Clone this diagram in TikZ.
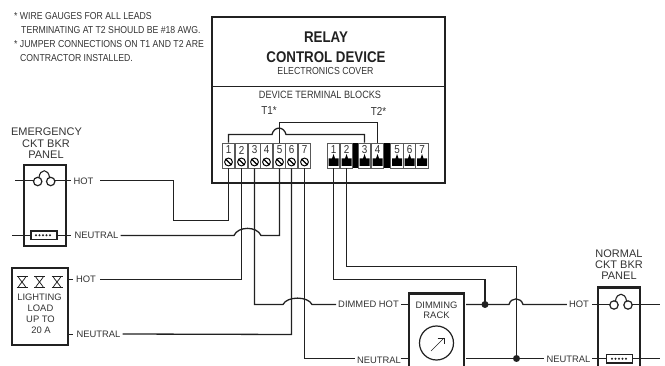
\documentclass[tikz,border=0pt]{standalone}
\usepackage{fontspec}
\setmainfont{Liberation Sans}
\newfontfamily\cond[FakeStretch=0.86]{Liberation Sans}
\usetikzlibrary{calc}
\definecolor{ink}{gray}{0.13}
\definecolor{txt}{gray}{0.2}
\tikzset{
  wire/.style={draw=ink,line width=1.3pt},
  heavy/.style={draw=ink,line width=2.4pt,line join=miter},
  stub/.style={draw=ink,line width=1.3pt},
  termbox/.style={draw=black!65,line width=0.7pt,fill=white,minimum width=12.6pt,minimum height=25pt,inner sep=0pt},
  termnum/.style={font=\cond\fontsize{11.5}{11.5}\selectfont,text=txt,inner sep=0pt},
  lbl/.style={font=\fontsize{9.4}{10}\selectfont,text=txt,inner sep=0pt,inner xsep=2pt},
  title/.style={font=\cond\fontsize{10.2}{10}\selectfont,text=txt,inner sep=0pt},
  panelname/.style={font=\fontsize{11}{11}\selectfont,text=txt,inner sep=0pt},
  boxtext/.style={font=\fontsize{9.4}{10}\selectfont,text=txt,inner sep=0pt},
  note/.style={font=\cond\fontsize{10.1}{10}\selectfont,text=txt,inner sep=0pt,anchor=west},
  dot/.style={circle,fill=ink,inner sep=0pt,minimum size=7pt},
}
\begin{document}
\begin{tikzpicture}[x=1pt,y=-1pt]
\useasboundingbox (0,0) rectangle (665,366);
% notes
\node[note] (n1) at (14,16.5) {* WIRE GAUGES FOR ALL LEADS};
\node[note] (n2) at (21,30.5) {TERMINATING AT T2 SHOULD BE \#18 AWG.};
\node[note] (n3) at (14,44.5) {* JUMPER CONNECTIONS ON T1 AND T2 ARE};
\node[note] (n4) at (20,58.5) {CONTRACTOR INSTALLED.};
% relay box
\draw[heavy] (212,17) rectangle (445,183);
\draw[draw=ink,line width=0.8pt] (212,86) -- (445,86);
\node[font=\cond\bfseries\fontsize{15.5}{16}\selectfont,text=ink,inner sep=0pt] (relay) at (326,37) {RELAY};
\node[font=\cond\bfseries\fontsize{15.5}{16}\selectfont,text=ink,inner sep=0pt] (ctrl) at (326,57.5) {CONTROL DEVICE};
\node[title] (cover) at (325.5,71) {ELECTRONICS COVER};
\node[title,font=\cond\fontsize{10.6}{10}\selectfont] (blocks) at (320,95) {DEVICE TERMINAL BLOCKS};
\node[title,font=\cond\fontsize{11.5}{11}\selectfont] (tone) at (269,111) {T1*};
\node[title,font=\cond\fontsize{11.5}{11}\selectfont] (ttwo) at (378.5,111) {T2*};
% T1
\foreach \n/\x in {1/228.5,2/241.5,3/254.5,4/266.5,5/279.5,6/291.5,7/304.5}{
  \node[termbox] (a\n) at (\x,155.5) {};
  \node[termnum] (an\n) at (\x,150) {\n};
  \draw[black,line width=1pt] (\x,162) circle (3.9);
  \draw[black,line width=1.4pt] (\x-3,159) -- (\x+3,165);
}
% T2
\fill[black] (352,143) rectangle (358.5,168);
\fill[black] (384,143) rectangle (390.5,168);
\foreach \n/\x in {1/333.5,2/346.5,3/364.5,4/377.5,5/397,6/409.5,7/422}{
  \node[termbox] (b\n) at (\x,155.5) {};
  \node[termnum] (bn\n) at (\x,149.5) {\n};
  \fill[black] (\x-5,166) -- (\x-5,158.5) -- (\x-1.5,158.5) -- (\x,154) -- (\x+1.5,158.5) -- (\x+5,158.5) -- (\x+5,166) -- cycle;
}
% jumpers
\draw[wire] (a1.north) -- (228.5,134.5) -- (272,134.5) .. controls (274,126) and (284,126) .. (286,134.5) -- (364.5,134.5) -- (b3.north);
\draw[wire] (a5.north) -- (279.5,122.5) -- (377.5,122.5) -- (b4.north);
% emergency panel
\node[panelname] (em1) at (46.5,132) {EMERGENCY};
\node[panelname] (em2) at (46,144) {CKT BKR};
\node[panelname] (em3) at (46,155) {PANEL};
\draw[heavy] (24,165) rectangle (66,246);
\draw[stub] (15,180.5) -- (33.7,180.5);
\draw[stub] (54.7,180.5) -- (71,180.5);
\draw[draw=ink,line width=1.2pt] (37.7,181.5) circle (4.2) (50.7,181.5) circle (4.2);
\draw[draw=ink,line width=1.1pt] (39,177.5) .. controls (40,168.5) and (48.5,168.5) .. (49.5,177.5);
\draw[stub] (12,235.5) -- (31,235.5);
\draw[stub] (57,235.5) -- (71,235.5);
\draw[draw=ink,line width=1.2pt,fill=white] (31,231) rectangle (57,239.5);
\foreach \x in {36,39.5,43,46.5,50}{\fill[ink] (\x,235.3) circle (1.1);}
\node[lbl] (hot1) at (83.5,181) {HOT};
\node[lbl] (neu1) at (96.5,235.5) {NEUTRAL};
% lighting load
\draw[heavy] (12,268) rectangle (68,345);
\foreach \x in {22,39.5,57}{
  \draw[draw=ink,line width=0.8pt] (\x-5.5,276.5) -- (\x+5.5,276.5) (\x-5.5,287.5) -- (\x+5.5,287.5);
  \draw[draw=ink,line width=0.8pt] (\x-4,276.5) .. controls (\x-2,280) and (\x+2,284) .. (\x+4,287.5);
  \draw[draw=ink,line width=0.8pt] (\x+4,276.5) .. controls (\x+2,280) and (\x-2,284) .. (\x-4,287.5);
}
\node[boxtext] (ll1) at (39.5,297) {LIGHTING};
\node[boxtext] (ll2) at (40.5,308) {LOAD};
\node[boxtext] (ll3) at (40.5,319) {UP TO};
\node[boxtext] (ll4) at (41,330) {20 A};
\draw[stub] (68,279.5) -- (73,279.5);
\draw[stub] (68,334.5) -- (73,334.5);
\node[lbl] (hot2) at (86,279.5) {HOT};
\node[lbl] (neu2) at (98.5,334) {NEUTRAL};
% dimming rack
\draw[heavy] (409,366) -- (409,293.5) -- (464,293.5) -- (464,366);
\node[boxtext] (dr1) at (436.5,305.5) {DIMMING};
\node[boxtext] (dr2) at (436.5,315.5) {RACK};
\node[draw=ink,line width=1.2pt,circle,minimum size=34pt,inner sep=0pt] (meter) at (436.5,343) {};
\draw[draw=ink,line width=0.7pt] (431,351) -- (444,338);
\draw[draw=ink,line width=0.7pt] (437.5,338) -- (444,338) -- (444,344.5);
\node[lbl] (dimhot) at (368.5,304.5) {DIMMED HOT};
\node[lbl] (neu3) at (379,360) {NEUTRAL};
\draw[stub] (401,304.5) -- (409,304.5);
\draw[stub] (400.5,358.5) -- (409,358.5);
% normal panel
\node[panelname] (no1) at (619,254) {NORMAL};
\node[panelname] (no2) at (619,265) {CKT BKR};
\node[panelname] (no3) at (619,276) {PANEL};
\draw[heavy] (598,366) -- (598,287.5) -- (640,287.5) -- (640,366);
\draw[stub] (592,304.5) -- (610,304.5);
\draw[stub] (632,304.5) -- (660,304.5);
\draw[draw=ink,line width=1.2pt] (614,305) circle (4.2) (628,305) circle (4.2);
\draw[draw=ink,line width=1.1pt] (615.5,301) .. controls (616.5,292) and (625.5,292) .. (626.5,301);
\draw[stub] (592,358.5) -- (606,358.5);
\draw[stub] (633,358.5) -- (660,358.5);
\draw[draw=ink,line width=1.2pt,fill=white] (606.5,354.5) rectangle (632.5,363);
\foreach \x in {612,615.5,619,622.5,626}{\fill[ink] (\x,358.7) circle (1.1);}
\node[lbl] (hot3) at (579,304.5) {HOT};
\node[lbl] (neu4) at (568.5,359) {NEUTRAL};
% wires from the terminals
\draw[wire] (a1.south) -- (228.5,220.5) -- (173.5,220.5) -- (173.5,180.5) -- ($(hot1.east)+(4,-0.5)$);
\draw[wire] (a2.south) -- (241.5,279.5) -- ($(hot2.east)+(2,0)$);
\draw[wire] (a3.south) -- (254.5,304.5) -- (283,304.5) .. controls (287,296) and (308,296) .. (312,304.5) -- (dimhot.west);
\draw[wire] (a5.south) -- (279.5,235.5) -- (261,235.5) .. controls (257,226) and (238,226) .. (234,235.5) -- (neu1.east);
\draw[wire] (a6.south) -- (291.5,334.5) -- (neu2.east);
\draw[wire] (a7.south) -- (304.5,358.5) -- (neu3.west |- 0,358.5);
\draw[wire] (b1.south) -- (333.5,279.5) -- (485,279.5) -- (485,304.5);
\draw[wire] (b2.south) -- (346.5,266.5) -- (516.5,266.5) -- (516.5,358.5);
\draw[wire] (466,304.5) -- (509,304.5) .. controls (511,297) and (521,297) .. (523,304.5) -- (hot3.west);
\draw[wire] (466,358.5) -- (neu4.west |- 0,358.5);
\node[dot] (j1) at (485,304.5) {};
\node[dot] (j2) at (516.5,358.5) {};
\end{tikzpicture}
\end{document}
